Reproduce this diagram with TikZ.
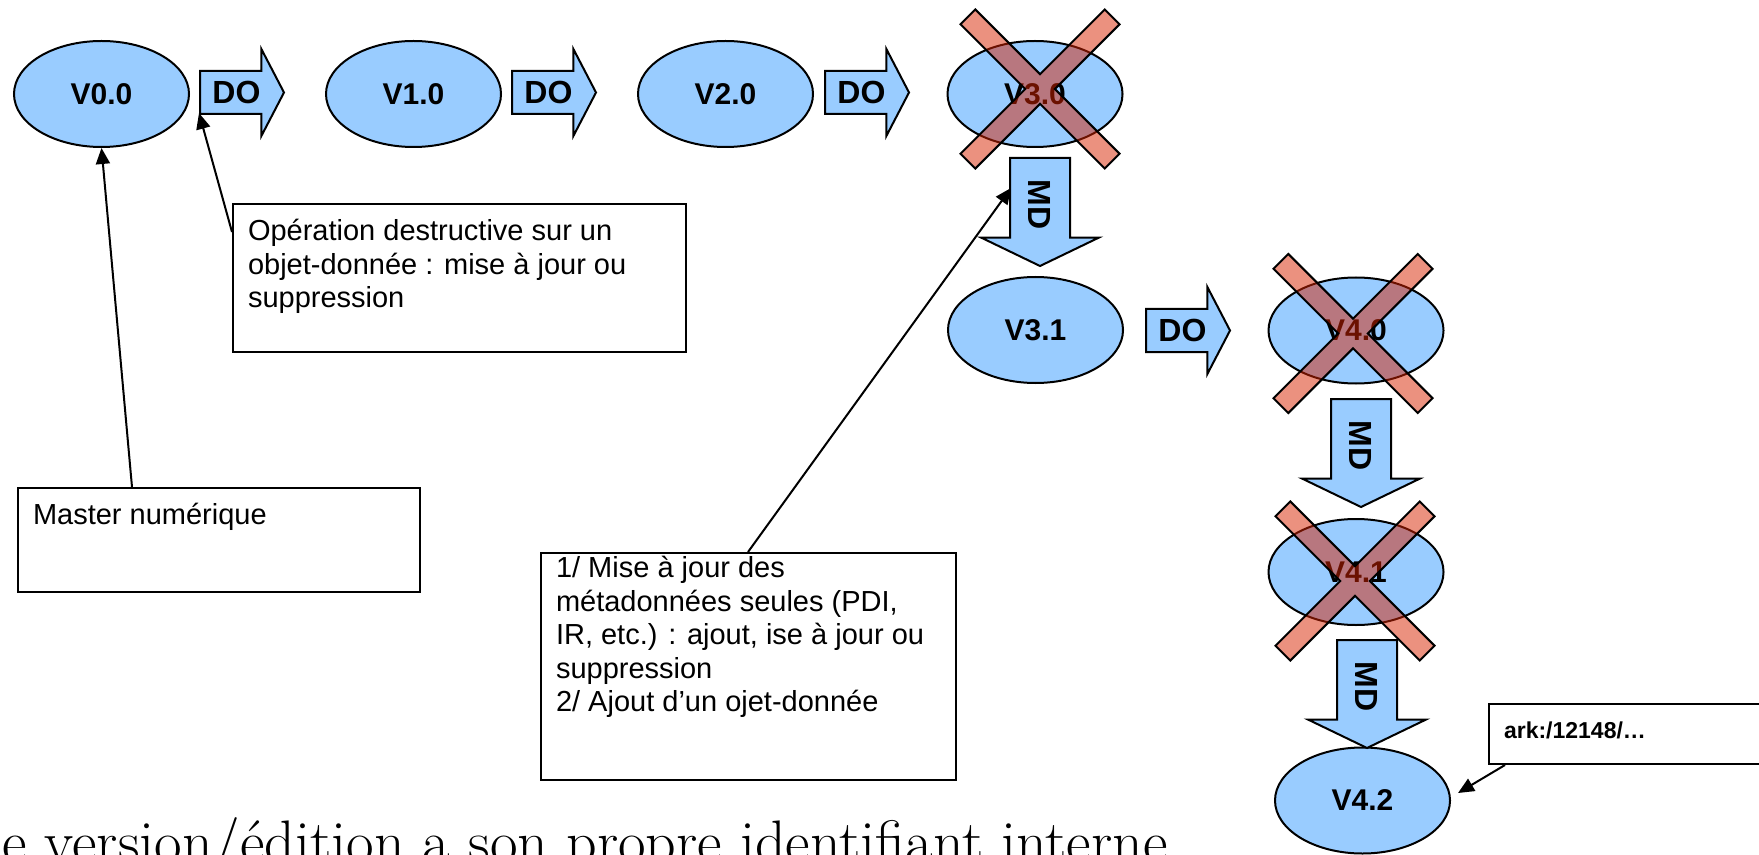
\documentclass[tikz,border=0pt]{standalone}
\usepackage{fontspec}
\setsansfont{Liberation Sans}
\usetikzlibrary{shapes.geometric,shapes.arrows}
\usetikzlibrary{arrows.meta}

\definecolor{verblue}{RGB}{153,204,255}
\definecolor{crossred}{RGB}{215,35,0}

\tikzset{
  version/.style={ellipse, draw, fill=verblue, line width=1pt,
    minimum width=87.5pt, minimum height=53pt, inner sep=0pt,
    font=\sffamily\bfseries\fontsize{15}{17}\selectfont},
  doarrow/.style={single arrow, draw, fill=verblue, line width=1pt, anchor=tail,
    inner xsep=2pt, inner ysep=0pt, text height=15.98pt, text depth=4.52pt,
    single arrow head extend=11pt, single arrow tip angle=125, minimum height=42pt,
    font=\sffamily\bfseries\fontsize{16}{18}\selectfont},
  mdarrow/.style={doarrow, rotate=-90, text height=20.23pt, text depth=8.77pt,
    single arrow head extend=14.5pt, single arrow tip angle=128.5, minimum height=54pt},
  note/.style={draw, line width=1pt, anchor=north west, inner xsep=7.5pt,
    font=\sffamily\fontsize{14.5}{16.7}\selectfont},
  crossmark/.style={draw, line width=1pt, fill=crossred, fill opacity=0.5},
  >={Triangle[length=8pt,width=7pt]}
}

\begin{document}
\begin{tikzpicture}[x=0.5pt,y=-0.5pt]
\useasboundingbox (0,0) rectangle (1759,855);
\clip (0,0) rectangle (1759,855);

% versions
\node[version] (v00) at (101.5,94) {V0.0};
\node[version] (v10) at (413.5,94) {V1.0};
\node[version] (v20) at (725.5,94) {V2.0};
\node[version] (v30) at (1035,94) {V3.0};
\node[version] (v31) at (1035.5,330) {V3.1};
\node[version] (v40) at (1356,330.5) {V4.0};
\node[version] (v41) at (1356,572) {V4.1};
\node[version] (v42) at (1362.5,800.5) {V4.2};

% operations
\foreach \n/\x/\y in {1/199/92.5, 2/511/92.5, 3/824/92.5, 4/1145/330.5}
  \node[doarrow] (do\n) at (\x,\y) {DO};
\foreach \n/\x/\y in {1/1040/157, 2/1361/398, 3/1367/639}
  \node[mdarrow] (md\n) at (\x,\y) {MD};

% crossed out versions
\foreach \v/\dx/\dy in {v30/5/-5, v40/-3/3, v41/-1/9}
  \draw[crossmark, shift={(\v.center)}, shift={(\dx,\dy)}, rotate=45]
    (102,10.5) -- (10.5,10.5) -- (10.5,102) -- (-10.5,102) -- (-10.5,10.5) -- (-102,10.5)
    -- (-102,-10.5) -- (-10.5,-10.5) -- (-10.5,-102) -- (10.5,-102) -- (10.5,-10.5) -- (102,-10.5) -- cycle;

% notes
\node[note, inner ysep=7.8pt] (op) at (232,203)
  {\parbox[t][58.4pt][t]{211.5pt}{Opération destructive sur un\\ objet-donnée : mise à jour ou\\ suppression}};
\node[note, inner ysep=7.55pt] (master) at (17,487)
  {\parbox[t][36.9pt][t]{186pt}{Master numérique}};
\node[note, inner ysep=1.8pt] (mise) at (540,552)
  {\parbox[t][109.9pt][t]{192.5pt}{1/ Mise à jour des\\ métadonnées seules (PDI,\\ IR, etc.) : ajout, ise à jour ou\\ suppression\\ 2/ Ajout d’un ojet-donnée}};
\node[note, inner ysep=9.1pt, font=\sffamily\bfseries\fontsize{11.5}{13.5}\selectfont] (ark) at (1488,703)
  {\parbox[t][11.8pt][t]{135pt}{ark:/12148/…}};

\draw[->, line width=1pt] ([xshift=57.5pt]master.north west) -- (v00.south);
\draw[->, line width=1pt] ([yshift=-14.5pt]op.north west) -- ([yshift=-10.25pt]do1.tail);
\draw[->, line width=1pt] ([xshift=104pt]mise.north west) -- ([xshift=-14.5pt,yshift=-15.5pt]md1.tail);
\draw[->, line width=1pt] ([xshift=8.5pt]ark.south west) -- ([xshift=3.5pt,yshift=3.75pt]v42.east);

\node[anchor=base west, inner sep=0pt, font=\rmfamily\fontsize{30}{36}\selectfont] (caption) at (2,862)
  {e version/édition a son propre identifiant interne};
\end{tikzpicture}
\end{document}
